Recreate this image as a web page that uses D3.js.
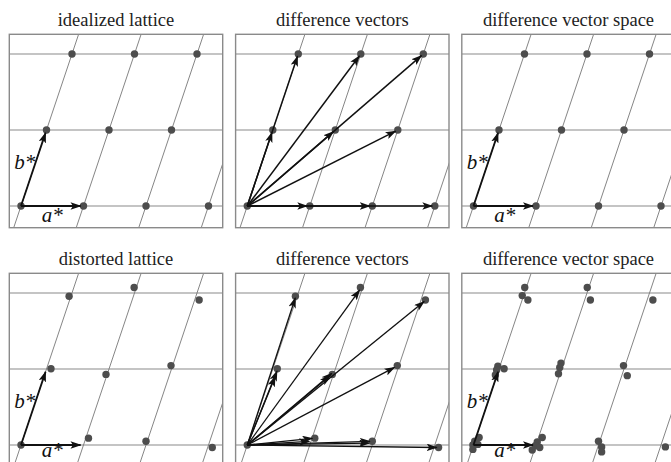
<!DOCTYPE html>
<html>
<head>
<meta charset="utf-8">
<script src="https://cdn.jsdelivr.net/npm/d3@7"></script>
<style>
  body { margin: 0; background: #fff; }
  svg text { font-family: "Liberation Serif", "Times New Roman", Times, "DejaVu Serif", serif; }
</style>
</head>
<body>
<svg id="chart" width="671" height="462"></svg>
<script>
// panel titles, row by row
const titles = [
  "idealized lattice", "difference vectors", "difference vector space",
  "distorted lattice", "difference vectors", "difference vector space"
];

// reciprocal basis (cartesian units, |a*| = 1)
const aStar = [1, 0];
const bStar = [0.408, 1.216];

// lattice indices shown as points
const latticeIdx = [
  [0, 0], [1, 0], [2, 0], [3, 0],
  [0, 1], [1, 1], [2, 1],
  [0, 2], [1, 2], [2, 2]
];
const gridRows = [0, 1, 2];
const gridCols = [0, 1, 2, 3];

// distorted lattice positions (cartesian units)
const distorted = [
  [0, 0], [1.08, 0.11], [2.0, 0.06], [3.06, -0.04],
  [0.48, 1.22], [1.36, 1.13], [2.4, 1.27],
  [0.77, 2.38], [1.81, 2.52], [2.85, 2.32]
];

// difference vectors drawn in the distorted panel (end points)
const diffVectors = [
  [1.08, 0.11], [1.03, 0.06], [2.0, 0.06], [1.99, 0.03], [3.07, -0.04],
  [0.49, 1.22], [0.46, 1.13], [1.35, 1.13], [1.38, 1.17], [2.39, 1.26],
  [0.78, 2.39], [1.82, 2.51], [2.86, 2.32]
];

// difference vector space points (cartesian units)
const diffSpace = [
  [0.09, 0.12], [0.02, 0.06], [-0.01, 0.0], [0.07, 0.01], [-0.01, -0.07],
  [1.1, 0.12], [1.02, 0.05], [0.99, -0.01], [1.06, -0.04], [0.94, -0.08],
  [2.0, 0.06], [2.05, -0.03], [2.05, -0.11], [3.07, -0.03],
  [0.39, 1.26], [0.37, 1.2], [0.49, 1.22], [0.35, 1.12],
  [1.4, 1.31], [1.38, 1.24], [1.36, 1.14],
  [2.4, 1.27], [2.46, 1.11],
  [0.82, 2.52], [0.78, 2.39], [0.87, 2.32],
  [1.82, 2.52], [1.87, 2.32],
  [2.87, 2.32]
];

const xDomain = [-0.187, 3.227];
const yDomain = [-0.347, 2.747];

const W = 213.4, H = 193.4;
const lefts = [9.3, 235.6, 461.8];
const tops = [34.3, 273.3];

const cart = ([h, k]) => [h * aStar[0] + k * bStar[0], h * aStar[1] + k * bStar[1]];
const ideal = latticeIdx.map(cart);

const svg = d3.select("#chart");

const defs = svg.append("defs");
defs.append("marker")
  .attr("id", "arrow")
  .attr("viewBox", "0 0 11 7.5")
  .attr("refX", 10)
  .attr("refY", 3.75)
  .attr("markerWidth", 11)
  .attr("markerHeight", 7.5)
  .attr("markerUnits", "userSpaceOnUse")
  .attr("orient", "auto")
  .append("path")
  .attr("d", "M0,0 L11,3.75 L0,7.5 L2.5,3.75 z")
  .attr("fill", "#111");

const x = d3.scaleLinear().domain(xDomain).range([0, W]);
const y = d3.scaleLinear().domain(yDomain).range([H, 0]);

const panels = [];
for (let r = 0; r < 2; r++) {
  for (let c = 0; c < 3; c++) {
    const i = r * 3 + c;
    const g = svg.append("g").attr("transform", `translate(${lefts[c]},${tops[r]})`);
    defs.append("clipPath").attr("id", "clip" + i)
      .append("rect").attr("width", W).attr("height", H);

    svg.append("text")
      .attr("x", lefts[c] + W / 2)
      .attr("y", tops[r] - 8.5)
      .attr("text-anchor", "middle")
      .attr("font-size", 18.5)
      .attr("fill", "#222")
      .text(titles[i]);

    const grid = g.append("g").attr("clip-path", `url(#clip${i})`);
    grid.selectAll("line.h").data(gridRows).enter().append("line")
      .attr("x1", 0).attr("x2", W)
      .attr("y1", (d) => y(d * bStar[1])).attr("y2", (d) => y(d * bStar[1]))
      .attr("stroke", "#8a8a8a").attr("stroke-width", 1.1);
    grid.selectAll("line.s").data(gridCols).enter().append("line")
      .attr("x1", (d) => x(d - 3 * bStar[0])).attr("y1", y(-3 * bStar[1]))
      .attr("x2", (d) => x(d + 4 * bStar[0])).attr("y2", y(4 * bStar[1]))
      .attr("stroke", "#777").attr("stroke-width", 0.9);

    g.append("rect").attr("width", W).attr("height", H)
      .attr("fill", "none").attr("stroke", "#8a8a8a").attr("stroke-width", 1.4);

    panels.push(g);
  }
}

const drawDots = (g, pts) => {
  g.append("g").selectAll("circle").data(pts).enter().append("circle")
    .attr("cx", (d) => x(d[0])).attr("cy", (d) => y(d[1]))
    .attr("r", 3.7).attr("fill", "#4d4d4d");
};

// arrow from origin, stopping a little short of the end point
const drawArrows = (g, ends, width, gap = 2.5) => {
  g.append("g").selectAll("line").data(ends).enter().append("line")
    .attr("x1", x(0)).attr("y1", y(0))
    .attr("x2", (d) => {
      const dx = x(d[0]) - x(0), dy = y(d[1]) - y(0);
      const len = Math.hypot(dx, dy);
      return x(0) + dx * (1 - gap / len);
    })
    .attr("y2", (d) => {
      const dx = x(d[0]) - x(0), dy = y(d[1]) - y(0);
      const len = Math.hypot(dx, dy);
      return y(0) + dy * (1 - gap / len);
    })
    .attr("stroke", "#111").attr("stroke-width", width)
    .attr("marker-end", "url(#arrow)");
};

// a*, b* basis arrows with labels; labelDy keeps a* inside the page
const drawBasis = (g, labelDy = 15.5) => {
  drawArrows(g, [aStar, bStar], 1.8, 3);
  g.append("text")
    .attr("x", (x(0) + x(aStar[0])) / 2)
    .attr("y", y(0) + labelDy)
    .attr("text-anchor", "middle")
    .attr("font-size", 21).attr("font-style", "italic").attr("fill", "#111")
    .text("a*");
  g.append("text")
    .attr("x", (x(0) + x(bStar[0])) / 2 + 1.5)
    .attr("y", (y(0) + y(bStar[1])) / 2 + 1)
    .attr("text-anchor", "end")
    .attr("font-size", 21).attr("font-style", "italic").attr("fill", "#111")
    .text("b*");
};

// top row: idealized
drawDots(panels[0], ideal);
drawBasis(panels[0]);

drawDots(panels[1], ideal);
drawArrows(panels[1], ideal.slice(1), 1.5);

drawDots(panels[2], ideal);
drawBasis(panels[2]);

// bottom row: distorted
drawDots(panels[3], distorted);
drawBasis(panels[3], 12);

drawDots(panels[4], distorted);
drawArrows(panels[4], diffVectors, 1.3);

drawDots(panels[5], diffSpace);
drawBasis(panels[5], 12);
</script>
</body>
</html>
